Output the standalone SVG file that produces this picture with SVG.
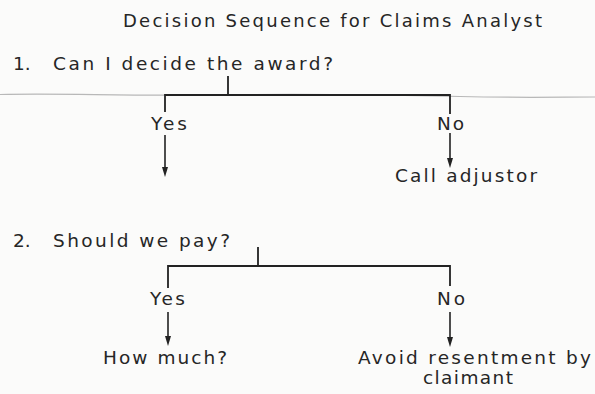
<svg xmlns="http://www.w3.org/2000/svg" width="595" height="394" viewBox="0 0 595 394">
<defs>
<style>
text{font-family:"DejaVu Sans","Liberation Sans",sans-serif;font-size:18.5px;fill:#262626;}
.title{font-size:18px;}
.ln{stroke:#222;stroke-width:1.8;fill:none;stroke-linecap:square;}
.arr{stroke:#222;stroke-width:1.6;fill:none;marker-end:url(#ah);}
.fold{stroke:#b8b8b8;stroke-width:1.2;fill:none;}
</style>
<marker id="ah" viewBox="0 0 10 6" refX="5" refY="3" markerWidth="10" markerHeight="6" markerUnits="userSpaceOnUse" orient="auto">
<path d="M0,0 L10,3 L0,6 z" fill="#222"/>
</marker>
</defs>
<rect width="595" height="394" fill="#fbfbfa"/>
<path class="fold" d="M0,94.5 C60,93 120,96 200,95 S400,95 460,96.5 S560,97 595,97"/>

<g id="title"><text class="title" x="123" y="27" textLength="419" lengthAdjust="spacing">Decision Sequence for Claims Analyst</text></g>

<g id="q1"><text x="13" y="69.5">1.</text><text x="53" y="69.5" textLength="280" lengthAdjust="spacing">Can I decide the award?</text></g>
<g id="q1-yes"><text x="151" y="129.5" textLength="36" lengthAdjust="spacing">Yes</text></g>
<g id="q1-no"><text x="437" y="129.5" textLength="27" lengthAdjust="spacing">No</text></g>
<g id="call-adjustor"><text x="395" y="182" textLength="142" lengthAdjust="spacing">Call adjustor</text></g>

<g id="q2"><text x="13" y="247">2.</text><text x="53" y="247" textLength="177" lengthAdjust="spacing">Should we pay?</text></g>
<g id="q2-yes"><text x="150" y="305" textLength="35" lengthAdjust="spacing">Yes</text></g>
<g id="q2-no"><text x="437" y="305" textLength="28" lengthAdjust="spacing">No</text></g>
<g id="how-much"><text x="103" y="364" textLength="124" lengthAdjust="spacing">How much?</text></g>
<g id="avoid-resentment"><text x="358" y="364" textLength="233" lengthAdjust="spacing">Avoid resentment by</text><text x="423" y="384" textLength="90" lengthAdjust="spacing">claimant</text></g>

<g id="connectors">
<path class="ln" d="M228,77 V95 M165,111 V95 H450 V113"/>
<line class="arr" x1="165" y1="135" x2="165" y2="172"/>
<line class="arr" x1="450" y1="133" x2="450" y2="163"/>
<path class="ln" d="M258,248 V266 M168,287 V266 H450 V285"/>
<line class="arr" x1="168" y1="312" x2="168" y2="341"/>
<line class="arr" x1="450" y1="312" x2="450" y2="342"/>
</g>
</svg>
